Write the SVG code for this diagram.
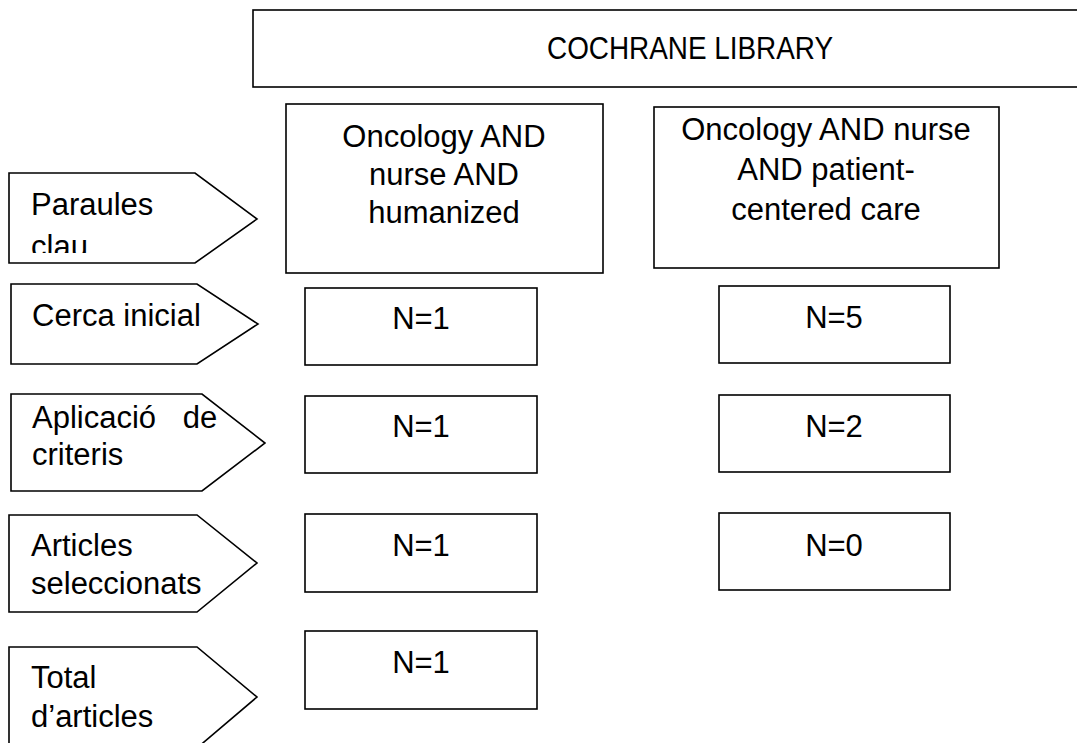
<svg xmlns="http://www.w3.org/2000/svg" width="1077" height="743" viewBox="0 0 1077 743">
<style>
  .shape { fill: #ffffff; stroke: #000000; stroke-width: 1.6; }
  .t { font-family: "Liberation Sans", Arial, sans-serif; font-size: 31px; fill: #000000; }
  .c { text-anchor: middle; }
</style>
<defs>
  <clipPath id="clipClau"><rect x="0" y="170" width="260" height="83"/></clipPath>
</defs>
<rect width="1077" height="743" fill="#ffffff"/>
<g id="header">
  <rect class="shape" x="253" y="10" width="900" height="77"/>
  <text class="t c" x="690" y="59" textLength="286" lengthAdjust="spacingAndGlyphs">COCHRANE LIBRARY</text>
</g>
<g id="label-paraules">
  <polygon class="shape" points="9,173 195,173 257,219 195,263 9,263"/>
  <g clip-path="url(#clipClau)">
    <text class="t" x="31" y="215">Paraules</text>
    <text class="t" x="31" y="257">clau</text>
  </g>
</g>
<g id="label-cerca">
  <polygon class="shape" points="11,284 197,284 258,324 197,364 11,364"/>
  <text class="t" x="32" y="326">Cerca inicial</text>
</g>
<g id="label-aplicacio">
  <polygon class="shape" points="11,394 202,394 265,443 202,491 11,491"/>
  <text class="t" x="32" y="428" word-spacing="18">Aplicació de</text>
  <text class="t" x="32" y="465">criteris</text>
</g>
<g id="label-articles">
  <polygon class="shape" points="9,515 197,515 257,563 197,612 9,612"/>
  <text class="t" x="31" y="556">Articles</text>
  <text class="t" x="31" y="594">seleccionats</text>
</g>
<g id="label-total">
  <polygon class="shape" points="9,647 197,647 257,697 197,748 9,748"/>
  <text class="t" x="31" y="688">Total</text>
  <text class="t" x="31" y="727">d’articles</text>
</g>
<g id="query-1">
  <rect class="shape" x="286" y="104" width="317" height="169"/>
  <text class="t c" x="444" y="147">Oncology AND</text>
  <text class="t c" x="444" y="185">nurse AND</text>
  <text class="t c" x="444" y="223">humanized</text>
</g>
<g id="query-2">
  <rect class="shape" x="654" y="107" width="345" height="161"/>
  <text class="t c" x="826" y="140">Oncology AND nurse</text>
  <text class="t c" x="826" y="180">AND patient-</text>
  <text class="t c" x="826" y="220">centered care</text>
</g>
<g id="q1-cerca">
  <rect class="shape" x="305" y="288" width="232" height="77"/>
  <text class="t c" x="421" y="329">N=1</text>
</g>
<g id="q1-aplicacio">
  <rect class="shape" x="305" y="396" width="232" height="77"/>
  <text class="t c" x="421" y="437">N=1</text>
</g>
<g id="q1-articles">
  <rect class="shape" x="305" y="514" width="232" height="78"/>
  <text class="t c" x="421" y="556">N=1</text>
</g>
<g id="q1-total">
  <rect class="shape" x="305" y="631" width="232" height="78"/>
  <text class="t c" x="421" y="673">N=1</text>
</g>
<g id="q2-cerca">
  <rect class="shape" x="719" y="286" width="231" height="77"/>
  <text class="t c" x="834" y="328">N=5</text>
</g>
<g id="q2-aplicacio">
  <rect class="shape" x="719" y="395" width="231" height="77"/>
  <text class="t c" x="834" y="437">N=2</text>
</g>
<g id="q2-articles">
  <rect class="shape" x="719" y="513" width="231" height="77"/>
  <text class="t c" x="834" y="556">N=0</text>
</g>
<g id="connectors"></g>
</svg>
